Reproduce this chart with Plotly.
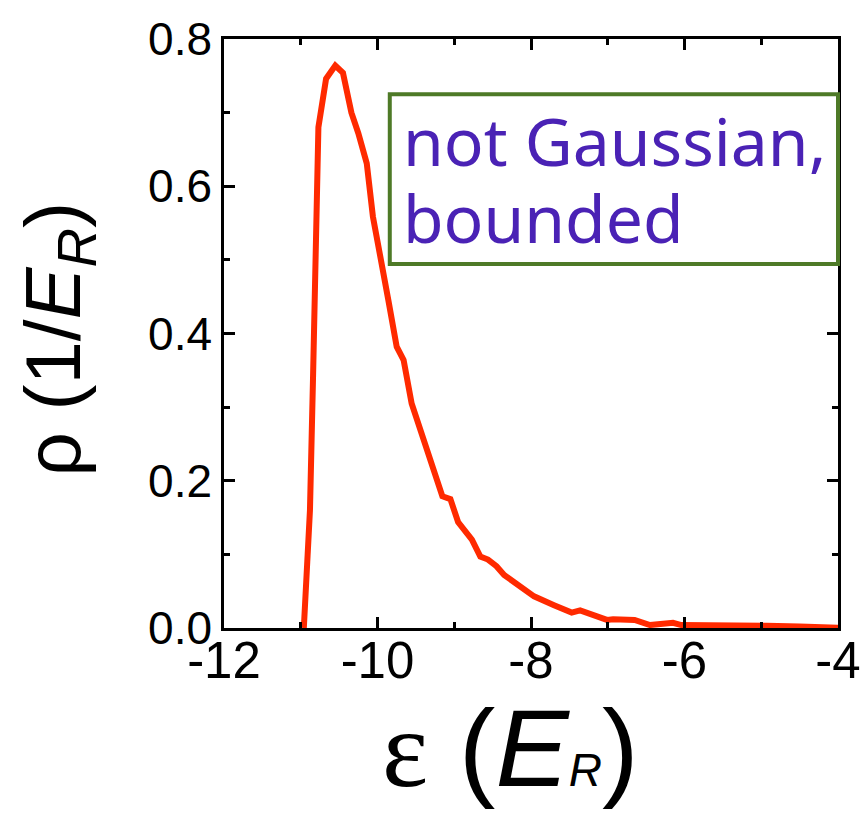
import plotly.graph_objects as go

# Single-particle energy density of states
energy = [-10.96, -10.88, -10.84, -10.77, -10.67, -10.55, -10.45, -10.34, -10.25,
          -10.14, -10.06, -9.95, -9.86, -9.75, -9.66, -9.555, -9.34, -9.155, -9.05,
          -8.95, -8.77, -8.66, -8.56, -8.45, -8.35, -8.23, -8.08, -7.96, -7.70,
          -7.47, -7.36, -7.19, -7.01, -6.93, -6.65, -6.45, -6.15, -6.04, -5.71,
          -5.37, -5.02, -4.93, -4.50, -4.00]
density = [0.0, 0.16, 0.34, 0.68, 0.746, 0.764, 0.754, 0.70, 0.672,
           0.631, 0.559, 0.500, 0.446, 0.382, 0.364, 0.305, 0.240, 0.179, 0.175,
           0.144, 0.120, 0.097, 0.093, 0.084, 0.072, 0.063, 0.054, 0.043, 0.031,
           0.021, 0.024, 0.018, 0.011, 0.012, 0.011, 0.004, 0.007, 0.004, 0.004,
           0.003, 0.005, 0.003, 0.002, 0.0005]

x_ticks = [-12, -10, -8, -6, -4]
y_ticks = [0.0, 0.2, 0.4, 0.6, 0.8]

fig = go.Figure()
fig.add_trace(go.Scatter(x=energy, y=density, mode="lines",
                         line=dict(color="#ff2a00", width=6), showlegend=False))

axis_common = dict(
    showgrid=False, zeroline=False, showline=True, linecolor="black", linewidth=2.5,
    mirror="allticks", ticks="inside", ticklen=11, tickwidth=2.5, tickcolor="black",
    automargin=False,
)

fig.update_xaxes(
    range=[-12, -4], tickvals=x_ticks, ticktext=[str(v) for v in x_ticks],
    tickfont=dict(family="Liberation Sans, Arial", size=51, color="black"),
    ticklabelstandoff=-14,
    minor=dict(dtick=1, tick0=-12, ticks="inside", ticklen=6, tickwidth=2.5, tickcolor="black"),
    **axis_common,
)
fig.update_yaxes(
    range=[0, 0.8], tickvals=y_ticks, ticktext=[f"{v:.1f}" for v in y_ticks],
    tickfont=dict(family="Liberation Sans, Arial", size=46, color="black"),
    minor=dict(dtick=0.1, tick0=0, ticks="inside", ticklen=6, tickwidth=2.5, tickcolor="black"),
    **axis_common,
)

# annotation box
fig.add_shape(type="rect", xref="paper", yref="paper",
              x0=0.270, x1=1.0, y0=0.618, y1=0.906,
              line=dict(color="#4e7a27", width=4), fillcolor="white", layer="above")
box_font = dict(family="Noto Sans", size=66, color="#4a22b5")
fig.add_annotation(text="not Gaussian,", xref="paper", yref="paper",
                   x=0.288, y=0.829, xanchor="left", yanchor="middle",
                   showarrow=False, font=box_font)
fig.add_annotation(text="bounded", xref="paper", yref="paper",
                   x=0.288, y=0.697, xanchor="left", yanchor="middle",
                   showarrow=False, font=box_font)

# axis titles
fig.add_annotation(
    text="ρ (1/<i>E</i><sub><i>R</i></sub>)", xref="paper", yref="paper",
    x=-0.27, y=0.49, xanchor="center", yanchor="middle", textangle=-90,
    showarrow=False, font=dict(family="Liberation Sans, Arial", size=78, color="black"))
fig.add_annotation(
    text="<span style='font-family:Liberation Serif'>ε</span> (<i>E</i>"
         "<span style='font-size:46px'><i>R</i></span>)",
    xref="paper", yref="paper", x=0.466, y=-0.204, xanchor="center", yanchor="middle",
    showarrow=False, font=dict(family="Liberation Sans, Arial", size=110, color="black"))

fig.update_layout(
    width=864, height=816, plot_bgcolor="white", paper_bgcolor="white",
    margin=dict(l=224, r=26, t=39, b=188),
)

fig.write_html("out.html")
